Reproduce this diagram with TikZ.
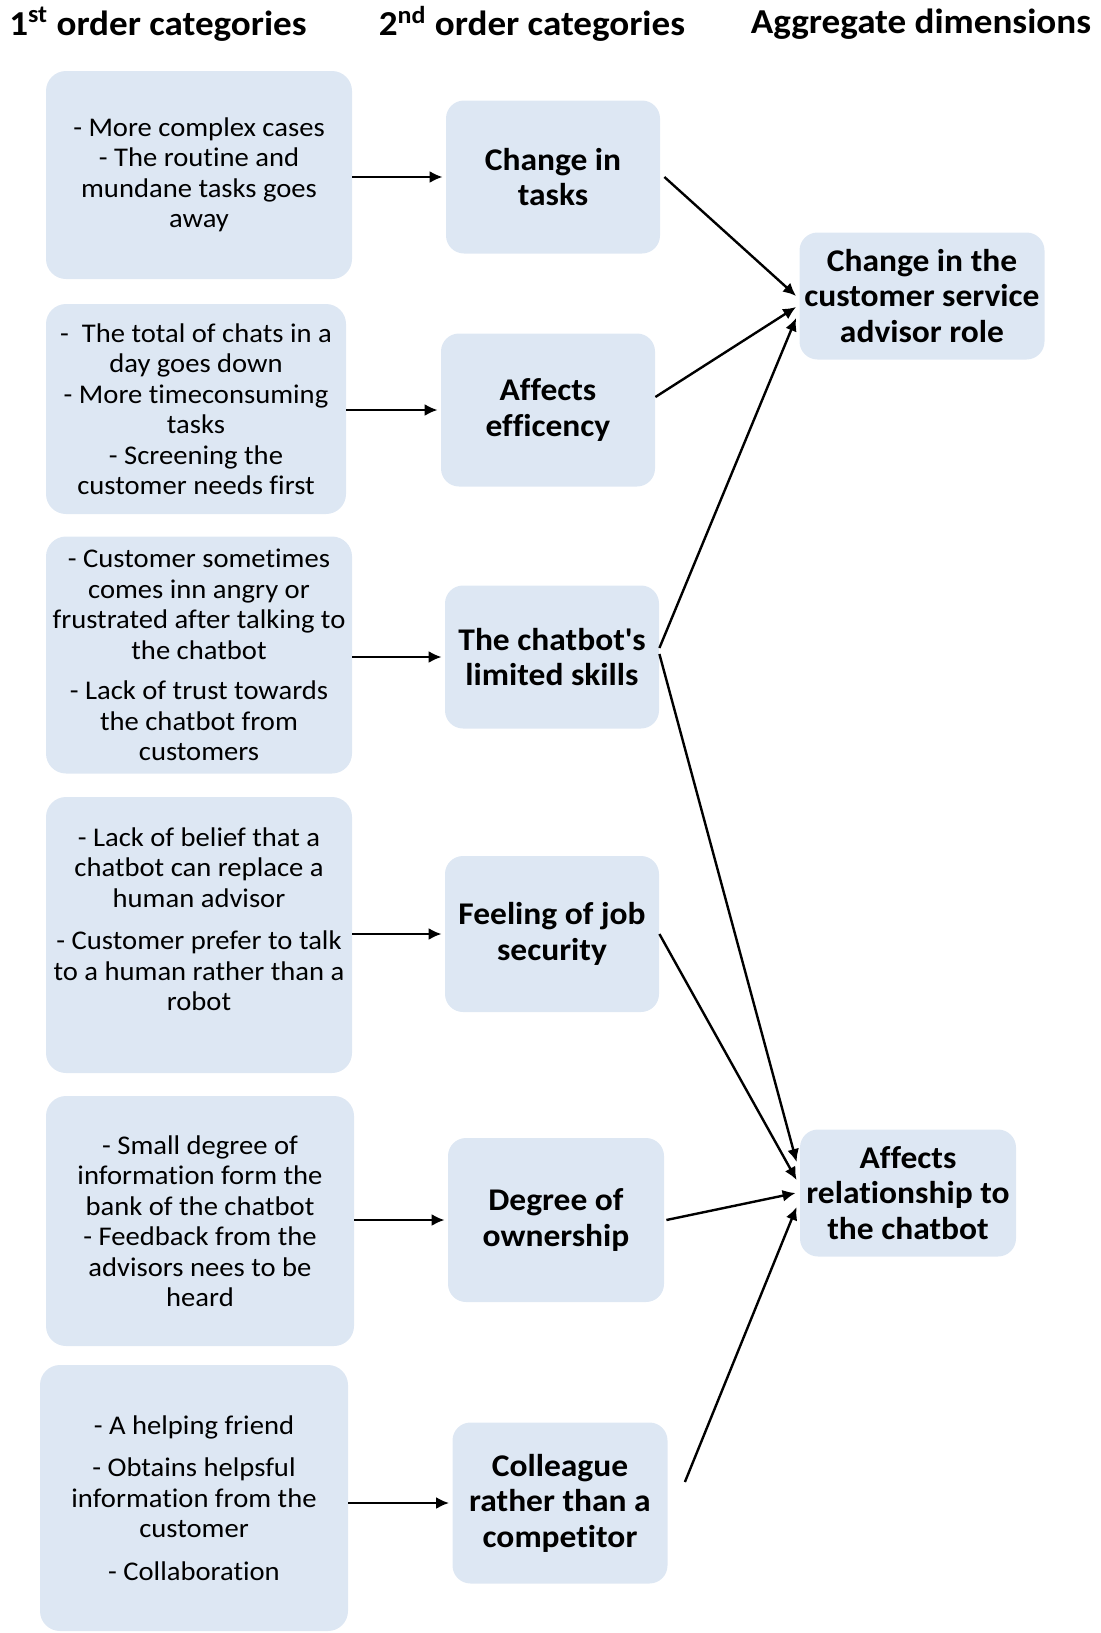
\documentclass[tikz,border=0pt]{standalone}
\usepackage{fontspec}
\setmainfont{Carlito}[FakeStretch=1.06,Ligatures=NoCommon]
\usetikzlibrary{arrows.meta}
\definecolor{boxblue}{RGB}{221,231,243}

\begin{document}
\begin{tikzpicture}[x=0.5pt,y=-0.5pt]
 \tikzstyle{head}=[text=black,font=\fontsize{17.5}{20}\selectfont\bfseries]
 \tikzstyle{firstbox}=[fill=boxblue,rounded corners=10pt,align=center,inner sep=0pt,font=\fontsize{13.5}{15.25}\selectfont]
 \tikzstyle{secondbox}=[fill=boxblue,rounded corners=9pt,align=center,inner sep=0pt,font=\fontsize{15.8}{17.7}\selectfont\bfseries]
 \tikzstyle{link}=[-{Latex[length=6.5pt,width=6pt]},line width=1.2pt]
 \useasboundingbox (0,0) rectangle (1101,1633);
 % column headers
 \node[head] (H1) at (158,24) {1\textsuperscript{st} order categories};
 \node[head] (H2) at (532,24) {2\textsuperscript{nd} order categories};
 \node[head] (H3) at (921,24) {Aggregate dimensions};
 % 1st order categories
 \node[firstbox,minimum width=153pt,minimum height=104pt] (C1) at (199,175)
  {- More complex cases\\- The routine and\\mundane tasks goes\\away};
 \node[firstbox,minimum width=150pt,minimum height=105pt] (C2) at (196,409)
  {-\ \ The total of chats in a\\day goes down\\- More timeconsuming\\tasks\\- Screening the\\customer needs first};
 \node[firstbox,minimum width=153pt,minimum height=118.5pt] (C3) at (199,655)
  {- Customer sometimes\\comes inn angry or\\frustrated after talking to\\the chatbot\\[5pt]- Lack of trust towards\\the chatbot from\\customers};
 \node[firstbox,minimum width=153pt,minimum height=138pt] (C4) at (199,935) {};
 \node[firstbox,fill=none] (T4) at ([yshift=8pt]C4.center)
  {- Lack of belief that a\\chatbot can replace a\\human advisor\\[6pt]- Customer prefer to talk\\to a human rather than a\\robot};
 \node[firstbox,minimum width=154pt,minimum height=125pt] (C5) at (200,1221)
  {- Small degree of\\information form the\\bank of the chatbot\\- Feedback from the\\advisors nees to be\\heard};
 \node[firstbox,minimum width=154pt,minimum height=133pt] (C6) at (194,1498)
  {- A helping friend\\[6pt]- Obtains helpsful\\information from the\\customer\\[6pt]- Collaboration};
 % 2nd order categories
 \node[secondbox,minimum width=107pt,minimum height=76.5pt] (S1) at (553,177) {Change in\\tasks};
 \node[secondbox,minimum width=107pt,minimum height=76.5pt] (S2) at (548,410) {Affects\\efficency};
 \node[secondbox,minimum width=107pt,minimum height=71.5pt] (S3) at (552,657) {The chatbot\textquotesingle s\\limited skills};
 \node[secondbox,minimum width=107pt,minimum height=78pt] (S4) at (552,934) {Feeling of job\\security};
 \node[secondbox,minimum width=108pt,minimum height=82pt] (S5) at (556,1220) {Degree of\\ownership};
 \node[secondbox,minimum width=107.5pt,minimum height=80.5pt] (S6) at (560,1503) {Colleague\\rather than a\\competitor};
 % aggregate dimensions
 \node[secondbox,minimum width=122.5pt,minimum height=63.5pt] (A1) at (922,296) {Change in the\\customer service\\advisor role};
 \node[secondbox,minimum width=108pt,minimum height=63.5pt] (A2) at (908,1193) {Affects\\relationship to\\the chatbot};
 % 1st -> 2nd
 \draw[link,shorten >=1.5pt] (S1.west -| C1.east) -- (S1.west);
 \draw[link,shorten >=1.5pt] (S2.west -| C2.east) -- (S2.west);
 \draw[link,shorten >=1.5pt] (S3.west -| C3.east) -- (S3.west);
 \draw[link,shorten >=1.5pt] (S4.west -| C4.east) -- (S4.west);
 \draw[link,shorten >=1.5pt] (S5.west -| C5.east) -- (S5.west);
 \draw[link,shorten >=1.5pt] (S6.west -| C6.east) -- (S6.west);
 % 2nd -> aggregate
 \draw[link] ([xshift=2pt]S1.east) -- ([xshift=-1.5pt]A1.west);
 \draw[link] ([yshift=6.5pt]S2.east) -- ([shift={(-1.5pt,-5.5pt)}]A1.west);
 \draw[link] ([yshift=4.5pt]S3.east) -- ([shift={(-1.5pt,-11pt)}]A1.west);
 \draw[link] ([yshift=1.5pt]S3.east) -- ([shift={(-1.5pt,15.5pt)}]A2.west);
 \draw[link] (S4.east) -- ([shift={(-1.5pt,6.5pt)}]A2.west);
 \draw[link] ([xshift=1pt]S5.east) -- ([xshift=-2pt]A2.west);
 \draw[link] ([shift={(8.5pt,10.5pt)}]S6.east) -- ([shift={(-1.5pt,-7pt)}]A2.west);
\end{tikzpicture}
\end{document}
